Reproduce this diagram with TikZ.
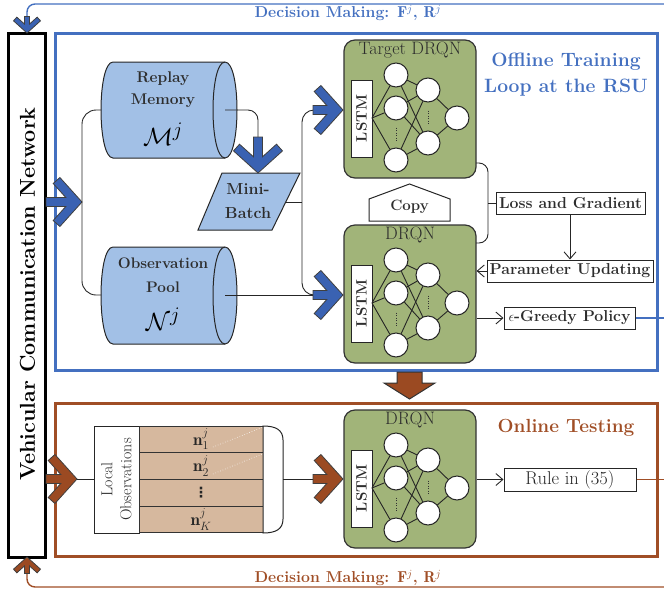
\documentclass[tikz,border=0pt]{standalone}
\usepackage{amsmath,amssymb}
\usepackage{fontspec}
\newfontfamily\dejavu{DejaVu Sans}
\usetikzlibrary{arrows.meta}
\definecolor{myblue}{RGB}{68,112,192}
\definecolor{arrowblue}{RGB}{58,98,178}
\definecolor{lightblue}{RGB}{162,192,230}
\definecolor{netgreen}{RGB}{161,180,121}
\definecolor{mybrown}{RGB}{160,78,38}
\definecolor{arrowbrown}{RGB}{155,74,34}
\definecolor{tanfill}{RGB}{214,184,158}
\definecolor{textgray}{RGB}{45,45,45}
\tikzset{
  conn/.style={draw=black!85,line width=0.9},
  arr/.style={conn,-{Straight Barb[length=7,width=12,line width=0.9]}},
  lbox/.style={draw=black!85,line width=1,fill=white,inner sep=1,text=textgray,minimum height=22},
  netbox/.style={draw=black!80,line width=1.2,fill=netgreen,rounded corners=11,minimum width=132,minimum height=138},
  lstmbox/.style={draw=black!85,line width=1,fill=white,minimum width=21,minimum height=77,inner sep=0},
  neuron/.style={circle,draw=black!85,line width=1,fill=white,minimum size=24,inner sep=0},
  chevstyle/.style={draw=black!75,line width=0.8},
  rowbox/.style={draw=black!80,line width=1,fill=tanfill,minimum width=124,minimum height=26.75,inner sep=0,text=black!85,font=\fontsize{17}{17}\selectfont},
}
\newcommand{\chevarrow}[5]{% tip, rotation, shaft length, fill, scale
  \begin{scope}[shift={(#1)},rotate=#2,scale=#5]
    \filldraw[chevstyle,fill=#4] (0,0)--(-22.1,-24.5)--(-28.8,-18.5)--(-16.2,-4.5)--(-#3,-4.5)--(-#3,4.5)--(-16.2,4.5)--(-28.8,18.5)--(-22.1,24.5)--cycle;
  \end{scope}}
\newcommand{\drqnnet}[3]{% prefix, y offset, title
  \begin{scope}[shift={(0,#2)}]
    \node[netbox] (#1box) at (410,109) {};
    \node[anchor=north,inner sep=0,text=textgray,font=\fontsize{18}{18}\selectfont] (#1title) at (410,42) {#3};
    \node[lstmbox] (#1lstm) at (361.5,118.5) {};
    \node[rotate=90,inner sep=0,text=textgray,font=\bfseries\fontsize{15}{15}\selectfont] (#1lstmtxt) at (361.5,118.5) {LSTM};
    \coordinate (#1lo) at (372,118);
    \node[neuron] (#1a) at (396,75) {};
    \node[neuron] (#1b) at (396,108) {};
    \node[neuron] (#1c) at (396,160) {};
    \node[neuron] (#1d) at (428,90) {};
    \node[neuron] (#1e) at (428,143) {};
    \node[neuron] (#1f) at (457,118) {};
    \foreach \s in {a,b,c} {\draw[conn] (#1lo) -- (#1\s);}
    \foreach \s in {a,b,c} {\foreach \t in {d,e} {\draw[conn] (#1\s) -- (#1\t);}}
    \foreach \s in {d,e} {\draw[conn] (#1\s) -- (#1f);}
    \draw[black!80,line width=1,dash pattern=on 0.9 off 1.6] (396,127.5) -- (396,141);
    \draw[black!80,line width=1,dash pattern=on 0.9 off 1.6] (428,110.5) -- (428,124);
  \end{scope}}
\begin{document}
\begin{tikzpicture}[x=1pt,y=-1pt]
\useasboundingbox (0,0) rectangle (664,595);

% ---------- Vehicular Communication Network ----------
\node[draw=black,line width=3,fill=white,minimum width=37,minimum height=524,inner sep=0] (vcn) at (27,295) {};
\node[rotate=90,inner sep=0,font=\bfseries\fontsize{21.5}{21.5}\selectfont] (vcntxt) at (27.5,294) {Vehicular Communication Network};

% ---------- frames ----------
\draw[myblue,line width=3] (55,33) rectangle (657.5,370);
\draw[mybrown,line width=3] (55,403) rectangle (657.5,556);
\node[text=myblue,align=center,font=\bfseries\fontsize{19.3}{26}\selectfont] (offt) at (566,75) {Offline Training\\Loop at the RSU};
\node[text=mybrown,font=\bfseries\fontsize{19}{19}\selectfont] (ont) at (566,428) {Online Testing};

% ---------- feedback lines ----------
\coordinate (topR) at (664,4);
\coordinate (vcnTopIn) at (27,16);
\draw[myblue,line width=1.4,rounded corners=8] (topR) -| (vcnTopIn);
\chevarrow{27,33}{-90}{30}{arrowblue}{0.55}
\node[text=myblue,font=\bfseries\fontsize{15.8}{15.8}\selectfont] (dmtop) at (348,13) {Decision Making: $\mathbf{F}^j$, $\mathbf{R}^j$};

\coordinate (botR) at (664,587);
\coordinate (vcnBotIn) at (27,574);
\draw[mybrown,line width=1.4,rounded corners=8] (botR) -| (vcnBotIn);
\chevarrow{27,557}{90}{30}{arrowbrown}{0.55}
\node[text=mybrown,font=\bfseries\fontsize{15.8}{15.8}\selectfont] (dmbot) at (348,578) {Decision Making: $\mathbf{F}^j$, $\mathbf{R}^j$};

% ---------- replay memory cylinder ----------
\filldraw[fill=lightblue,draw=black!85,line width=1] (113,62) -- (225,62) .. controls (241,62) and (241,158) .. (225,158) -- (113,158) .. controls (97,158) and (97,62) .. (113,62) -- cycle;
\draw[black!85,line width=1] (225,62) .. controls (209,62) and (209,158) .. (225,158);
\node[text=textgray,align=center,font=\bfseries\fontsize{15.5}{22}\selectfont] (reptxt) at (163,90) {Replay\\Memory};
\node[text=black,font=\fontsize{30}{30}\selectfont] (repm) at (163,134) {$\mathcal{M}^j$};
\coordinate (repW) at (101,110);
\coordinate (repC) at (225,110);

% ---------- observation pool cylinder ----------
\filldraw[fill=lightblue,draw=black!85,line width=1] (113,247) -- (225,247) .. controls (241,247) and (241,344) .. (225,344) -- (113,344) .. controls (97,344) and (97,247) .. (113,247) -- cycle;
\draw[black!85,line width=1] (225,247) .. controls (209,247) and (209,344) .. (225,344);
\node[text=textgray,align=center,font=\bfseries\fontsize{15.3}{24}\selectfont] (obstxt) at (163,275) {Observation\\Pool};
\node[text=black,font=\fontsize{30}{30}\selectfont] (obsn) at (163,319) {$\mathcal{N}^j$};
\coordinate (obsW) at (101,295);
\coordinate (obsC) at (225,295);

% ---------- mini-batch ----------
\filldraw[fill=lightblue,draw=black!85,line width=1] (222,173) -- (300,173) -- (272,230) -- (198,230) -- cycle;
\node[text=textgray,align=center,font=\bfseries\fontsize{16}{24}\selectfont] (mbtxt) at (248,201) {Mini-\\Batch};
\coordinate (mbR) at (286,202);
\coordinate (mbIn) at (258,137);

% ---------- input arrows (offline) ----------
\chevarrow{82,202}{0}{36}{arrowblue}{1}
\draw[conn,rounded corners=14] (repW) -| (82,202) |- (obsW);
\draw[conn,rounded corners=10] (repC) -| (mbIn);
\chevarrow{258,173}{-90}{36}{arrowblue}{1}

\coordinate (tgtIn) at (313,110);
\coordinate (drqnIn) at (313,295);
\coordinate (busM) at (302,202);
\draw[conn,rounded corners=12] (tgtIn) -| (busM) |- (drqnIn);
\draw[conn] (mbR) -- (busM);
\draw[conn] (obsC) -- (drqnIn);
\chevarrow{343,110}{0}{30}{arrowblue}{1}
\chevarrow{343,295}{0}{30}{arrowblue}{1}

% ---------- networks ----------
\drqnnet{t}{0}{Target DRQN}
\drqnnet{q}{185}{DRQN}
\drqnnet{o}{370}{DRQN}

% ---------- copy ----------
\filldraw[fill=white,draw=black!85,line width=1] (369,221) -- (369,199) -- (409.5,184) -- (450,199) -- (450,221) -- cycle;
\node[text=textgray,font=\bfseries\fontsize{15}{15}\selectfont] (copy) at (409.5,207) {Copy};

% ---------- loss / update / policy ----------
\node[lbox,minimum width=149,font=\bfseries\fontsize{15.8}{15.8}\selectfont] (loss) at (570.5,203) {Loss and Gradient};
\node[lbox,minimum width=166,font=\bfseries\fontsize{15.8}{15.8}\selectfont] (param) at (570,271) {Parameter Updating};
\node[lbox,minimum width=131,font=\bfseries\fontsize{15.8}{15.8}\selectfont] (greedy) at (569.5,318) {$\epsilon$-Greedy Policy};
\coordinate (ttR) at (476,163);
\coordinate (qqR) at (476,243);
\coordinate (lossJ) at (488,203);
\draw[conn,rounded corners=9] (ttR) -| (lossJ) |- (qqR);
\draw[conn] (lossJ) -- (loss.west);
\draw[arr] (loss.south -| param.north) -- (param.north);
\draw[arr] (param.west) -- (param.west -| qbox.east);
\draw[arr] (qbox.east |- greedy.west) -- (greedy.west);
\coordinate (greedyR) at (664,318);
\draw[myblue,line width=1.2] (greedy.east) -- (greedyR);

% ---------- transition arrow ----------
\filldraw[fill=arrowbrown,draw=black!80,line width=1] (397,372) -- (422,372) -- (422,383) -- (435,383) -- (409.5,399) -- (384,383) -- (397,383) -- cycle;

% ---------- online testing ----------
\chevarrow{77,479}{0}{31}{arrowbrown}{1}
\node[draw=black!85,line width=1,fill=white,minimum width=45,minimum height=107,inner sep=0] (loc) at (116.5,479.5) {};
\node[rotate=90,align=center,text=textgray,inner sep=0,font=\fontsize{16}{19}\selectfont] (loctxt) at (116.5,479.5) {Local\\Observations};
\node[rowbox] (r1) at (201,439.4) {$\mathbf{n}_1^j$};
\node[rowbox] (r2) at (201,466.1) {$\mathbf{n}_2^j$};
\node[rowbox,font=\dejavu\bfseries\fontsize{14}{14}\selectfont] (r3) at (201,492.9) {⋮};
\node[rowbox] (r4) at (201,519.6) {$\mathbf{n}_K^j$};
\draw[white,line width=0.6,dotted] (213,447) -- (262,427.5);
\draw[white,line width=0.6,dotted] (213,474) -- (262,454);
\filldraw[fill=white,draw=black!85,line width=1] (263,426) .. controls (276,426) and (283,430) .. (283,440) -- (283,519) .. controls (283,529) and (276,533) .. (263,533) -- cycle;
\coordinate (onTip) at (77,479);
\coordinate (capE) at (283,479);
\coordinate (onIn) at (313,479);
\draw[conn] (onTip) -- (loc.west |- onTip);
\draw[conn] (capE) -- (onIn);
\chevarrow{343,479}{0}{30}{arrowbrown}{1}
\node[lbox,minimum width=132,minimum height=23,text=black!85,font=\fontsize{18.5}{18.5}\selectfont] (rule) at (570,479.5) {Rule in (35)};
\draw[arr] (obox.east |- rule.west) -- (rule.west);
\coordinate (ruleR) at (664,479.5);
\draw[mybrown,line width=1.2] (rule.east) -- (ruleR);
\end{tikzpicture}
\end{document}
